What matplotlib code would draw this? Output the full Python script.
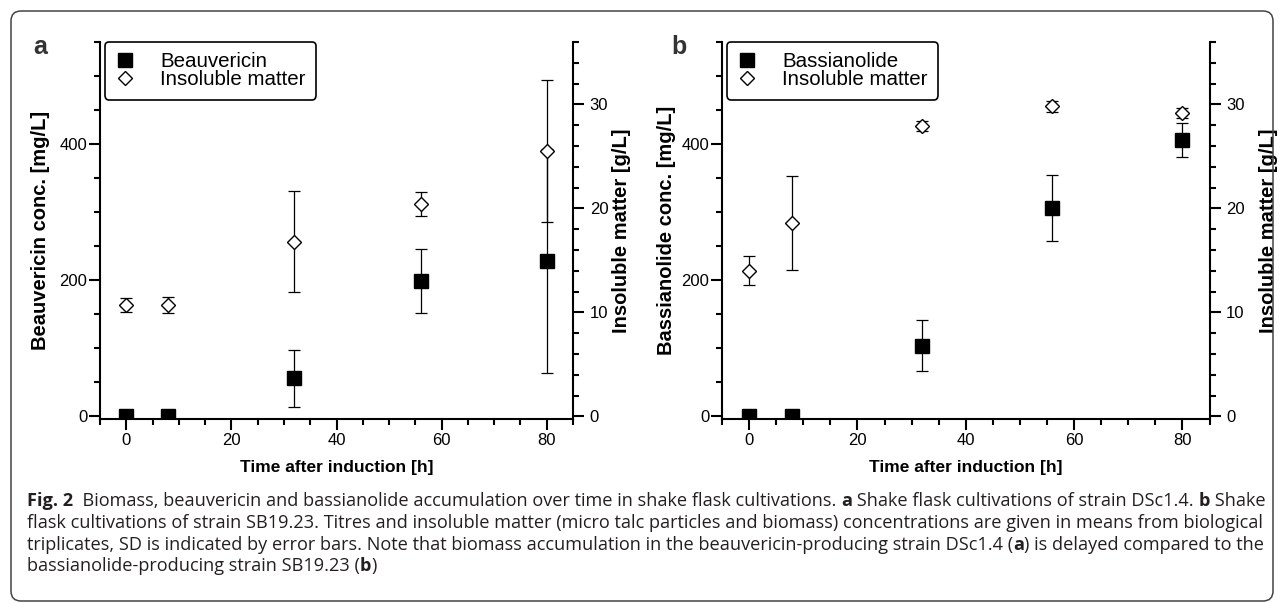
import matplotlib
matplotlib.use('Agg')
import matplotlib.pyplot as plt
from matplotlib.ticker import MultipleLocator
from matplotlib.patches import FancyBboxPatch
from matplotlib.transforms import IdentityTransform

# data
time_h = [0, 8, 32, 56, 80]

beauvericin = [0, 1, 56, 199, 228]
beauvericin_sd = [0, 0, 42, 47, 165]
insoluble_a = [10.7, 10.7, 16.8, 20.4, 25.5]
insoluble_a_sd = [0.65, 0.75, 4.85, 1.15, 6.85]

bassianolide = [0, 1, 104, 306, 406]
bassianolide_sd = [0, 0, 38, 49, 25]
insoluble_b = [14.0, 18.6, 27.9, 29.8, 29.2]
insoluble_b_sd = [1.4, 4.5, 0.5, 0.5, 0.5]

caption_lines = [
    [('Fig. 2', True), ('  Biomass, beauvericin and bassianolide accumulation over time in shake flask cultivations. ', False),
     ('a', True), (' Shake flask cultivations of strain DSc1.4. ', False), ('b', True), (' Shake', False)],
    [('flask cultivations of strain SB19.23. Titres and insoluble matter (micro talc particles and biomass) concentrations are given in means from biological', False)],
    [('triplicates, SD is indicated by error bars. Note that biomass accumulation in the beauvericin-producing strain DSc1.4 (', False),
     ('a', True), (') is delayed compared to the', False)],
    [('bassianolide-producing strain SB19.23 (', False), ('b', True), (')', False)],
]

plt.rcParams['font.family'] = ['Liberation Sans', 'DejaVu Sans']

W, H = 1284, 603
fig = plt.figure(figsize=(W / 100, H / 100), dpi=100)


def draw_panel(rect, conc, conc_sd, insol, insol_sd, name, ylabel, lab_left, lab_right):
    ax = fig.add_axes(rect)
    ax2 = ax.twinx()
    ax.errorbar(time_h, conc, yerr=conc_sd, fmt='none', ecolor='black',
                elinewidth=0.9, capsize=4, capthick=0.9)
    h1, = ax.plot(time_h, conc, 's', color='black', ms=9.5)
    ax2.errorbar(time_h, insol, yerr=insol_sd, fmt='none', ecolor='black',
                 elinewidth=0.9, capsize=4, capthick=0.9)
    h2, = ax2.plot(time_h, insol, 'D', mfc='white', mec='black', mew=1.0, ms=7)

    ax.set_xlim(-5, 85)
    ax.set_ylim(-4, 550)
    ax2.set_ylim(-0.26, 36)
    ax.xaxis.set_major_locator(MultipleLocator(20))
    ax.xaxis.set_minor_locator(MultipleLocator(5))
    ax.yaxis.set_major_locator(MultipleLocator(200))
    ax.yaxis.set_minor_locator(MultipleLocator(50))
    ax2.yaxis.set_major_locator(MultipleLocator(10))
    ax2.yaxis.set_minor_locator(MultipleLocator(2))

    for s in ['top', 'right']:
        ax.spines[s].set_visible(False)
    for s in ['top', 'left', 'bottom']:
        ax2.spines[s].set_visible(False)
    ax.spines['left'].set_linewidth(1.5)
    ax.spines['bottom'].set_linewidth(1.5)
    ax2.spines['right'].set_linewidth(1.5)

    ax.tick_params(which='major', length=8, width=1.5, labelsize=12, pad=1)
    ax.tick_params(which='minor', length=4.5, width=1.5)
    ax.tick_params(axis='x', pad=2)
    ax2.tick_params(which='major', length=8, width=1.5, labelsize=12, pad=4)
    ax2.tick_params(which='minor', length=4.5, width=1.5)

    ax.set_xlabel('Time after induction [h]', fontsize=12.5, fontweight='bold', labelpad=9)
    ax.set_ylabel(ylabel, fontsize=14.5, fontweight='bold')
    ax2.set_ylabel('Insoluble matter [g/L]', fontsize=14.5, fontweight='bold')
    ax.yaxis.set_label_coords(lab_left, 0.5)
    ax2.yaxis.set_label_coords(lab_right, 0.5)

    leg = ax2.legend([h1, h2], [name, 'Insoluble matter'], loc='upper left',
                     bbox_to_anchor=(0.01, 1.0), borderaxespad=0, fontsize=14.8,
                     frameon=True, fancybox=True, framealpha=1, edgecolor='black',
                     handlelength=1.0, handletextpad=1.2, labelspacing=-0.05, borderpad=0.5)
    leg.get_frame().set_linewidth(1.2)
    return ax, ax2


draw_panel([100 / W, 1 - 419 / H, 473 / W, 377 / H], beauvericin, beauvericin_sd,
           insoluble_a, insoluble_a_sd, 'Beauvericin', 'Beauvericin conc. [mg/L]', -0.105, 1.083)
draw_panel([722 / W, 1 - 419 / H, 487.5 / W, 377 / H], bassianolide, bassianolide_sd,
           insoluble_b, insoluble_b_sd, 'Bassianolide', 'Bassianolide conc. [mg/L]', -0.094, 1.102)

fig.text(40 / W, 1 - 47 / H, 'a', fontsize=18, fontweight='bold', color='#333333', ha='center', va='center')
fig.text(679 / W, 1 - 47 / H, 'b', fontsize=18, fontweight='bold', color='#333333', ha='center', va='center')

# rounded frame around the whole figure
frame = FancyBboxPatch((11, 2), 1262, 590, boxstyle='round,pad=0,rounding_size=10',
                       transform=IdentityTransform(), fill=False, edgecolor='#444444', lw=1.1)
fig.add_artist(frame)

# caption with mixed bold runs
r = fig.canvas.get_renderer()
cap_font = ['Open Sans', 'DejaVu Sans']


def advance(s, size, bold):
    kw = dict(fontsize=size, fontweight='bold' if bold else 'normal', family=cap_font)
    t1 = fig.text(0, 0, s + '|', **kw)
    t2 = fig.text(0, 0, '|', **kw)
    w = t1.get_window_extent(r).width - t2.get_window_extent(r).width
    t1.remove()
    t2.remove()
    return w


w10 = sum(advance(s, 10, b) for s, b in caption_lines[0])
cap_size = 10 * 1240 / w10
baselines = [506, 528, 550, 571]
for line, yb in zip(caption_lines, baselines):
    x = 27
    for s, b in line:
        fig.text(x / W, 1 - yb / H, s, fontsize=cap_size, fontweight='bold' if b else 'normal',
                 family=cap_font, color='#231f20', ha='left', va='baseline')
        x += advance(s, cap_size, b)

fig.savefig('out.png', dpi=100)
